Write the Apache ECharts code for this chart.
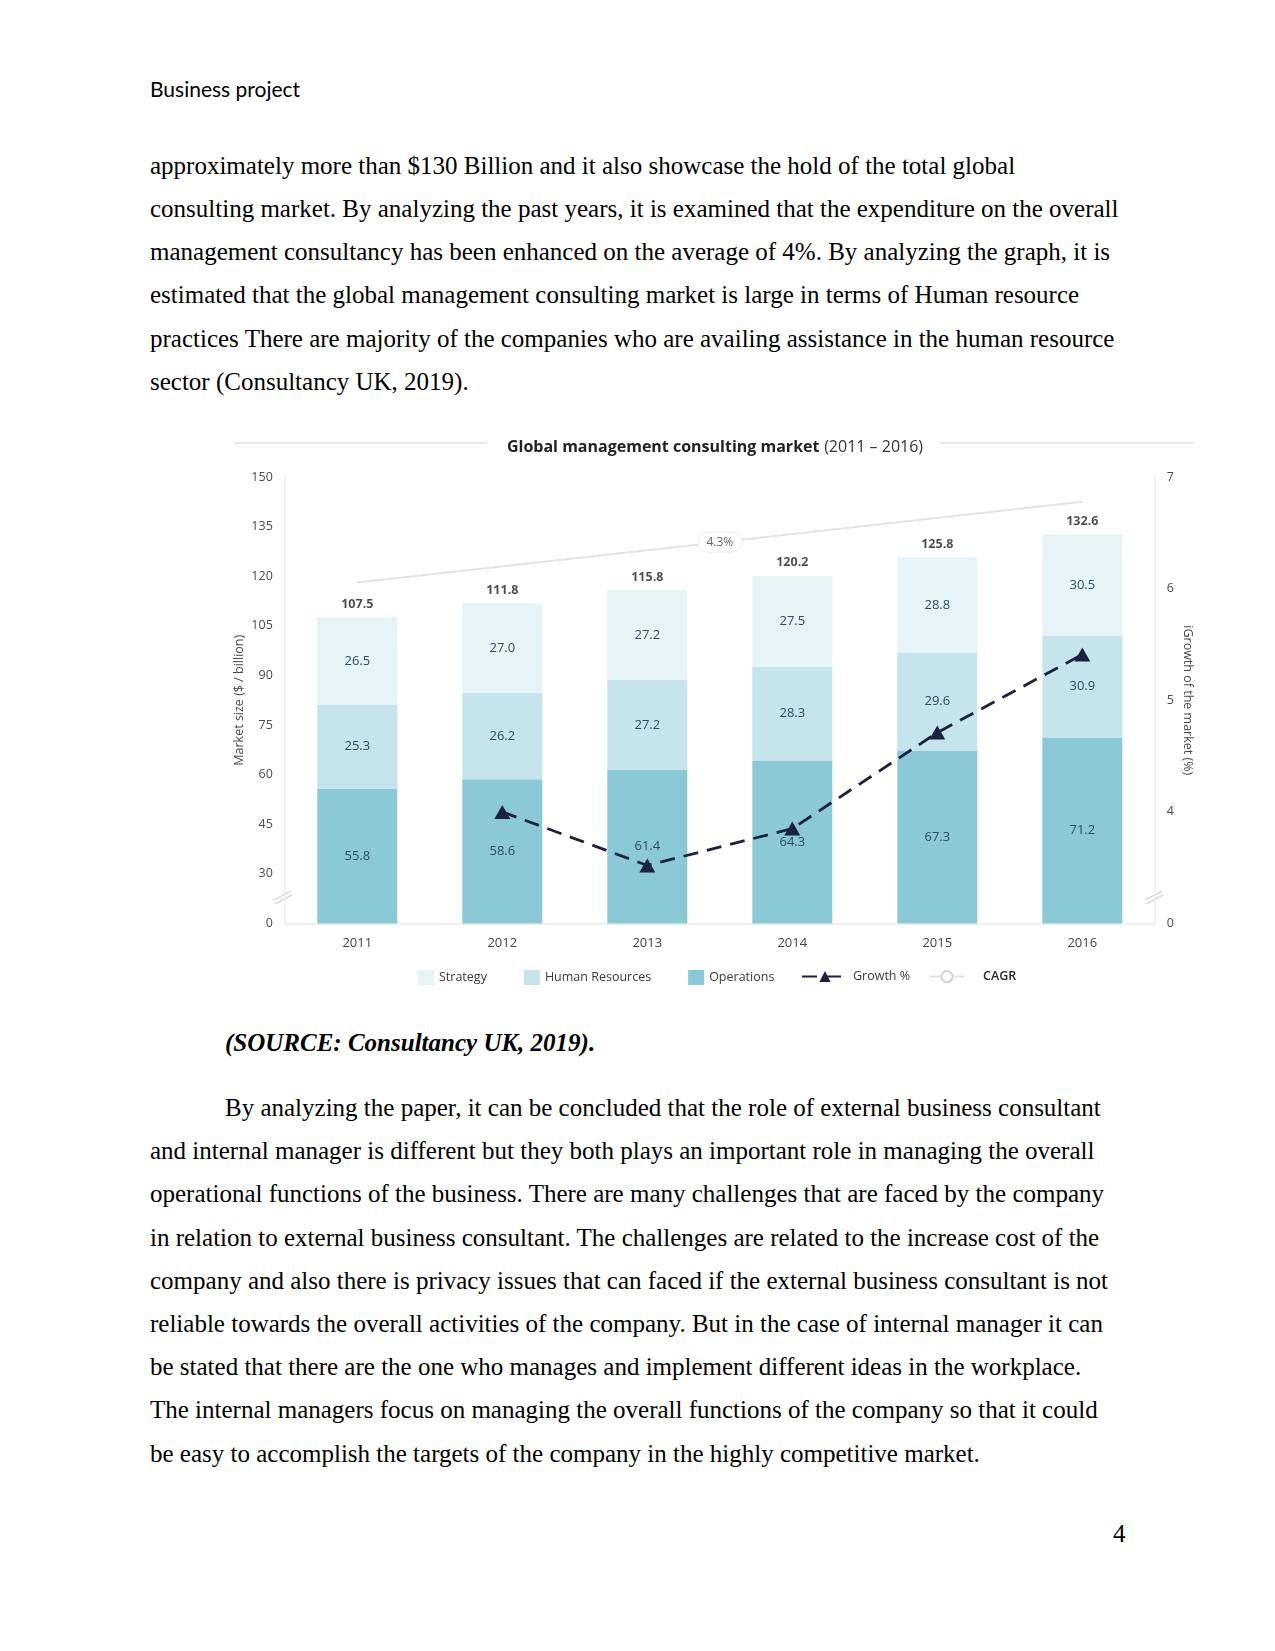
<!DOCTYPE html>
<html><head><meta charset="utf-8">
<script src="https://cdn.jsdelivr.net/npm/echarts@6/dist/echarts.min.js"></script>
<style>
html,body{margin:0;padding:0;background:#fff;}
#page{position:relative;width:1275px;height:1651px;overflow:hidden;background:#fff;}
.hdr{position:absolute;left:150px;top:74px;font-family:Lato,'Open Sans',sans-serif;font-size:21px;line-height:30px;color:#000;white-space:nowrap;}
.ln{position:absolute;left:150px;font-family:'Liberation Serif','Times New Roman',serif;font-size:25px;line-height:43.2px;white-space:nowrap;color:#000;}
.cap{font-weight:bold;font-style:italic;}
#chart{position:absolute;left:0;top:420px;width:1275px;height:590px;}
</style></head>
<body>
<div id="page">
<div class="hdr">Business project</div>
<div class="ln" style="top:143.7px">approximately more than $130 Billion and it also showcase the hold of the total global</div>
<div class="ln" style="top:186.9px">consulting market. By analyzing the past years, it is examined that the expenditure on the overall</div>
<div class="ln" style="top:230.1px">management consultancy has been enhanced on the average of 4%. By analyzing the graph, it is</div>
<div class="ln" style="top:273.3px">estimated that the global management consulting market is large in terms of Human resource</div>
<div class="ln" style="top:316.5px">practices There are majority of the companies who are availing assistance in the human resource</div>
<div class="ln" style="top:359.7px">sector (Consultancy UK, 2019).</div>
<div id="chart"></div>
<div class="ln cap" style="left:225px;top:1020.7px">(SOURCE: Consultancy UK, 2019).</div>
<div class="ln" style="left:225px;top:1085.9px">By analyzing the paper, it can be concluded that the role of external business consultant</div>
<div class="ln" style="top:1129.1px">and internal manager is different but they both plays an important role in managing the overall</div>
<div class="ln" style="top:1172.3px">operational functions of the business. There are many challenges that are faced by the company</div>
<div class="ln" style="top:1215.5px">in relation to external business consultant. The challenges are related to the increase cost of the</div>
<div class="ln" style="top:1258.7px">company and also there is privacy issues that can faced if the external business consultant is not</div>
<div class="ln" style="top:1301.9px">reliable towards the overall activities of the company. But in the case of internal manager it can</div>
<div class="ln" style="top:1345.1px">be stated that there are the one who manages and implement different ideas in the workplace.</div>
<div class="ln" style="top:1388.3px">The internal managers focus on managing the overall functions of the company so that it could</div>
<div class="ln" style="top:1431.5px">be easy to accomplish the targets of the company in the highly competitive market.</div>
<div class="ln" style="left:1113px;top:1512.4px">4</div>
</div>
<script>
const years = ['2011', '2012', '2013', '2014', '2015', '2016'];
const strategy = [26.5, 27.0, 27.2, 27.5, 28.8, 30.5];
const humanResources = [25.3, 26.2, 27.2, 28.3, 29.6, 30.9];
const operations = [55.8, 58.6, 61.4, 64.3, 67.3, 71.2];
const totals = [107.5, 111.8, 115.8, 120.2, 125.8, 132.6];
const growth = [null, 4.0, 3.52, 3.85, 4.71, 5.41];
const cagrLine = [118.1, null, null, null, null, 142.5];
const cagrText = '4.3%';
const leftTickLabels = ['0', '30', '45', '60', '75', '90', '105', '120', '135', '150'];
const rightTickLabels = ['0', '4', '5', '6', '7'];

const FONT = "'Open Sans', 'Noto Sans', sans-serif";
const DARK = '#1b2140';
const chart = echarts.init(document.getElementById('chart'), null, {renderer: 'canvas'});

const baseGraphic = [
  {type: 'line', shape: {x1: 234, y1: 23, x2: 487, y2: 23}, style: {stroke: '#e2e2e2', lineWidth: 1.5}, silent: true},
  {type: 'line', shape: {x1: 940, y1: 23, x2: 1193, y2: 23}, style: {stroke: '#e2e2e2', lineWidth: 1.5}, silent: true},
  {type: 'line', shape: {x1: 274, y1: 480, x2: 291, y2: 471}, style: {stroke: '#cfcfcf', lineWidth: 1.2}, silent: true},
  {type: 'line', shape: {x1: 275, y1: 484, x2: 292, y2: 475}, style: {stroke: '#cfcfcf', lineWidth: 1.2}, silent: true},
  {type: 'line', shape: {x1: 1145, y1: 480, x2: 1162, y2: 471}, style: {stroke: '#cfcfcf', lineWidth: 1.2}, silent: true},
  {type: 'line', shape: {x1: 1146, y1: 484, x2: 1163, y2: 475}, style: {stroke: '#cfcfcf', lineWidth: 1.2}, silent: true}
];

const barLabel = {show: true, position: 'inside', color: '#2f4b5c', fontSize: 13, fontFamily: FONT,
  formatter: p => Number(p.value).toFixed(1)};
const legendText = {color: '#3a3a3a', fontSize: 12.5, fontFamily: FONT};

const option = {
  animation: false,
  textStyle: {fontFamily: FONT},
  title: {
    text: '{b|Global management consulting market} {n|(2011 – 2016)}',
    left: 710, top: 13, textAlign: 'center',
    textStyle: {rich: {
      b: {fontWeight: 'bold', fontSize: 16, color: '#222', fontFamily: FONT},
      n: {fontWeight: 'normal', fontSize: 16, color: '#333', fontFamily: FONT}
    }}
  },
  legend: [
    {data: ['Strategy', 'Human Resources', 'Operations'], left: 418, top: 550, padding: 0,
     itemWidth: 16, itemHeight: 15, itemGap: 37, icon: 'rect', textStyle: legendText},
    {data: ['Growth %'], left: 801, top: 550, padding: 0, itemWidth: 46, itemHeight: 14, textStyle: legendText},
    {data: ['CAGR'], left: 929, top: 550, padding: 0, itemWidth: 34, itemHeight: 14,
     textStyle: {color: '#2a2a2a', fontSize: 12.5, fontFamily: FONT, fontWeight: 600, padding: [0, 0, 0, 14]}}
  ],
  grid: {left: 284.8, right: 120.2, top: 57, bottom: 86.5},
  xAxis: {
    type: 'category', data: years,
    axisLine: {lineStyle: {color: '#ececec', width: 1.5}},
    axisTick: {show: false},
    axisLabel: {color: '#444', fontSize: 13, margin: 13}
  },
  yAxis: [
    {type: 'value', min: 15, max: 150, interval: 15,
     name: 'Market size ($ / billion)', nameLocation: 'middle', nameGap: 39, nameMoveOverlap: false,
     nameTextStyle: {color: '#4a4a4a', fontSize: 12.5},
     axisLine: {show: true, lineStyle: {color: '#efefef', width: 1.5}},
     axisTick: {show: false}, splitLine: {show: false},
     axisLabel: {color: '#4a4a4a', fontSize: 12.5, margin: 12, formatter: (v, i) => leftTickLabels[i]}},
    {type: 'value', min: 3, max: 7, interval: 1,
     name: 'iGrowth of the market (%)', nameLocation: 'middle', nameGap: 26, nameRotate: -90, nameMoveOverlap: false,
     nameTextStyle: {color: '#4a4a4a', fontSize: 12.5},
     axisLine: {show: true, lineStyle: {color: '#efefef', width: 1.5}},
     axisTick: {show: false}, splitLine: {show: false},
     axisLabel: {color: '#4a4a4a', fontSize: 12.5, margin: 12, formatter: (v, i) => rightTickLabels[i]}}
  ],
  series: [
    {name: 'Operations', type: 'bar', stack: 'm', data: operations, barWidth: 80,
     itemStyle: {color: '#8cc9d6'}, label: barLabel, clip: true},
    {name: 'Human Resources', type: 'bar', stack: 'm', data: humanResources, barWidth: 80,
     itemStyle: {color: '#c5e4eb'}, label: barLabel, clip: true},
    {name: 'Strategy', type: 'bar', stack: 'm', data: strategy, barWidth: 80,
     itemStyle: {color: '#e6f4f8'}, label: barLabel, clip: true},
    {name: 'Total', type: 'scatter', data: totals, symbolSize: 1, itemStyle: {color: 'rgba(0,0,0,0)'}, silent: true,
     label: {show: true, position: 'top', distance: 6, color: '#1f1f1f', fontWeight: 'bold', fontSize: 12.5, fontFamily: FONT,
       formatter: p => Number(p.value).toFixed(1)}},
    {name: 'CAGR', type: 'line', data: cagrLine, connectNulls: true, showSymbol: false,
     symbol: 'emptyCircle', symbolSize: 14, z: 1,
     lineStyle: {color: '#e3e3e3', width: 2}, itemStyle: {color: '#d2d2d2'}},
    {name: 'Growth %', type: 'line', yAxisIndex: 1, data: growth, symbol: 'triangle', symbolSize: [16, 14], z: 5,
     itemStyle: {color: DARK}, lineStyle: {color: DARK, width: 2.8, type: [15, 9]}}
  ]
};
chart.setOption(option);

const p0 = chart.convertToPixel({seriesName: 'CAGR'}, [0, cagrLine[0]]);
const p1 = chart.convertToPixel({seriesName: 'CAGR'}, [5, cagrLine[5]]);
const mx = (p0[0] + p1[0]) / 2, my = (p0[1] + p1[1]) / 2;
chart.setOption({graphic: baseGraphic.concat([
  {type: 'rect', shape: {x: mx - 22, y: my - 10, width: 44, height: 20, r: 10},
   style: {fill: '#fff', stroke: '#ececec', lineWidth: 1}, z: 10, silent: true},
  {type: 'text', x: mx, y: my, z: 11, silent: true,
   style: {text: cagrText, fill: '#666', fontSize: 12, fontFamily: FONT, align: 'center', verticalAlign: 'middle'}}
])});
</script>
</body></html>
